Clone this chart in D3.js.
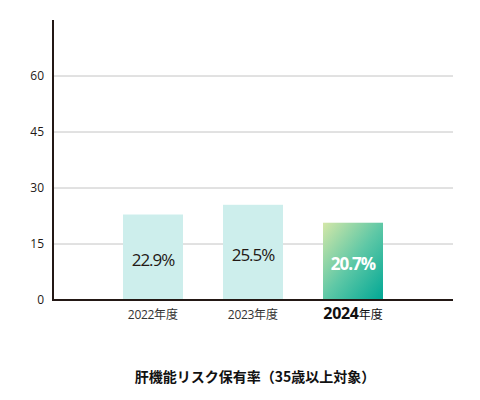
<!DOCTYPE html>
<html lang="ja">
<head>
<meta charset="utf-8">
<title>肝機能リスク保有率</title>
<script src="https://d3js.org/d3.v7.min.js"></script>
<style>
  body { margin: 0; background: #fff; }
  svg { display: block; font-family: "Noto Sans CJK JP", "Noto Sans", sans-serif; }
</style>
</head>
<body>
<div id="chart"></div>
<script>
  // data
  var years = ['2022', '2023', '2024'];
  var rates = [22.9, 25.5, 20.7];
  var yTicks = [0, 15, 30, 45, 60];
  var title = '肝機能リスク保有率（35歳以上対象）';

  var W = 480, H = 400;
  var margin = {top: 20, right: 27, bottom: 100, left: 53},
      width = W - margin.left - margin.right,
      height = H - margin.top - margin.bottom;

  var svg = d3.select('#chart').append('svg')
      .attr('width', W).attr('height', H);

  var defs = svg.append('defs');
  var grad = defs.append('linearGradient')
      .attr('id', 'g2024')
      .attr('x1', '0%').attr('y1', '0%')
      .attr('x2', '100%').attr('y2', '100%');
  grad.append('stop').attr('offset', '0%').attr('stop-color', '#d4e7a8');
  grad.append('stop').attr('offset', '50%').attr('stop-color', '#5fc8a6');
  grad.append('stop').attr('offset', '100%').attr('stop-color', '#00a795');

  var g = svg.append('g')
      .attr('transform', 'translate(' + margin.left + ',' + margin.top + ')');

  var x = d3.scalePoint().domain(years).range([0, width]).padding(1);
  var y = d3.scaleLinear().domain([0, 75]).range([height, 0]);
  var barW = 60;

  // gridlines
  g.selectAll('.grid')
    .data(yTicks.filter(function(d) { return d > 0; }))
    .enter().append('line')
    .attr('x1', 0).attr('x2', width)
    .attr('y1', function(d) { return y(d); })
    .attr('y2', function(d) { return y(d); })
    .attr('stroke', '#c4c4c4').attr('stroke-width', 1);

  // y axis labels
  var yAxis = g.append('g').call(d3.axisLeft(y).tickValues(yTicks).tickSize(0).tickPadding(9));
  yAxis.select('.domain').remove();
  yAxis.selectAll('text')
    .attr('fill', '#231815').style('font-size', '12px')
    .style('font-family', '"Open Sans", "Noto Sans", sans-serif');

  // bars
  g.selectAll('.bar')
    .data(rates)
    .enter().append('rect')
    .attr('x', function(d, i) { return x(years[i]) - barW / 2; })
    .attr('width', barW)
    .attr('y', function(d) { return y(d); })
    .attr('height', function(d) { return height - y(d); })
    .attr('fill', function(d, i) { return i === 2 ? 'url(#g2024)' : '#cdeeec'; });

  // value labels
  g.selectAll('.val')
    .data(rates)
    .enter().append('text')
    .attr('x', function(d, i) { return x(years[i]); })
    .attr('y', function(d) { return (y(d) + height) / 2 + 2; })
    .attr('text-anchor', 'middle')
    .attr('dominant-baseline', 'central')
    .attr('fill', function(d, i) { return i === 2 ? '#fff' : '#231815'; })
    .style('font-weight', function(d, i) { return i === 2 ? 'bold' : 'normal'; })
    .style('font-size', '17px')
    .style('letter-spacing', '-1px')
    .style('font-family', '"Open Sans", "Noto Sans", sans-serif')
    .text(function(d) { return d.toFixed(1) + '%'; });

  // axes lines
  g.append('line')
    .attr('x1', 0).attr('x2', 0).attr('y1', 0).attr('y2', height)
    .attr('stroke', '#231815').attr('stroke-width', 2);
  g.append('line')
    .attr('x1', -1).attr('x2', width).attr('y1', height).attr('y2', height)
    .attr('stroke', '#231815').attr('stroke-width', 2);

  // x labels
  var xl = g.selectAll('.xl')
    .data(years)
    .enter().append('text')
    .attr('x', function(d) { return x(d); })
    .attr('y', height + 19)
    .attr('text-anchor', 'middle')
    .attr('fill', function(d, i) { return i === 2 ? '#111' : '#333'; });
  xl.append('tspan')
    .style('font-size', function(d, i) { return i === 2 ? '16px' : '12px'; })
    .style('font-weight', function(d, i) { return i === 2 ? 'bold' : 'normal'; })
    .style('font-family', '"Open Sans", "Noto Sans", sans-serif')
    .style('letter-spacing', '-0.3px')
    .text(function(d) { return d; });
  xl.append('tspan')
    .style('font-size', '12px')
    .text('年度');

  // title
  svg.append('text')
    .attr('x', 255).attr('y', 382)
    .attr('text-anchor', 'middle')
    .attr('fill', '#111')
    .style('font-size', '14px')
    .style('font-weight', 'bold')
    .text(title);
</script>
</body>
</html>
